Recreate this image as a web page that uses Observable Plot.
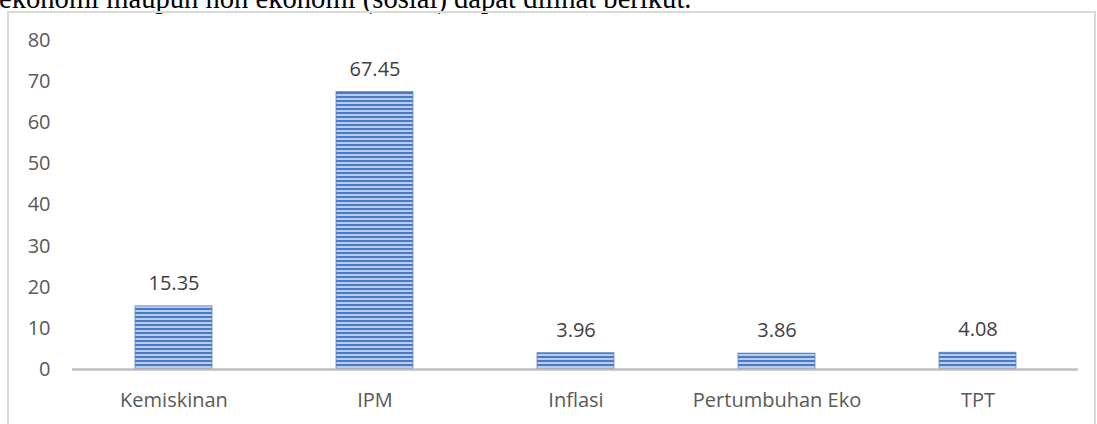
<!DOCTYPE html>
<html>
<head>
<meta charset="utf-8">
<script src="https://cdn.jsdelivr.net/npm/d3@7"></script>
<script src="https://cdn.jsdelivr.net/npm/@observablehq/plot@0.6"></script>
<style>
  html, body { margin: 0; padding: 0; background: #fff; overflow: hidden; }
  #wrap { position: relative; width: 1097px; height: 424px; overflow: hidden; }
  #frame { position: absolute; left: 7px; top: 11px; width: 1089px; height: 500px; border: 2px solid #d9d9d9; border-bottom: none; box-sizing: border-box; }
  #head { position: absolute; left: 0; top: 0; }
  #chart { position: absolute; left: 0; top: 0; }
</style>
</head>
<body>
<div id="wrap">
  <svg id="head" width="1097" height="20"><text x="-1" y="7.5" font-family="Liberation Serif, Times New Roman, serif" font-size="28.6" fill="#000">ekonomi maupun non ekonomi (sosial) dapat dilihat berikut.</text></svg>
  <div id="frame"></div>
  <div id="chart"></div>
</div>
<script>
const categories = ["Kemiskinan", "IPM", "Inflasi", "Pertumbuhan Eko", "TPT"];
const values = [15.35, 67.45, 3.96, 3.86, 4.08];
const yTicks = [0, 10, 20, 30, 40, 50, 60, 70, 80];

const data = categories.map((c, i) => ({category: c, value: values[i]}));

const chart = Plot.plot({
  width: 1097,
  height: 424,
  marginLeft: 72,
  marginRight: 19,
  marginTop: 40,
  marginBottom: 55,
  style: {background: "transparent", fontFamily: "Open Sans, sans-serif", fontSize: "20px", color: "#595959"},
  x: {domain: categories, paddingInner: 0.617, paddingOuter: 0.31, label: null},
  y: {domain: [0, 80], label: null},
  marks: [
    Plot.axisY({ticks: yTicks, tickSize: 0, tickPadding: 22, fontSize: 20, fill: "#595959", label: null}),
    Plot.axisX({tickSize: 0, tickPadding: 23, fontSize: 20, fill: "#595959", label: null}),
    Plot.barY(data, {x: "category", y: "value", fill: "url(#stripes)", stroke: "#5a86cc", strokeWidth: 0.8}),
    Plot.ruleY([0], {stroke: "#bfbfbf", strokeWidth: 2.5}),
    Plot.text(data, {x: "category", y: "value", text: d => d3.format(".2f")(d.value), dy: -23, fontSize: 20, fill: "#404040"})
  ]
});

const svg = d3.select(chart);
const defs = svg.insert("defs", ":first-child");
const pat = defs.append("pattern")
  .attr("id", "stripes")
  .attr("patternUnits", "userSpaceOnUse")
  .attr("width", 8)
  .attr("height", 4);
pat.append("rect").attr("x", 0).attr("y", 0).attr("width", 8).attr("height", 4).attr("fill", "#b8cdec");
pat.append("rect").attr("x", 0).attr("y", 0).attr("width", 8).attr("height", 2).attr("fill", "#4a79c6");

document.getElementById("chart").appendChild(chart);
</script>
</body>
</html>
